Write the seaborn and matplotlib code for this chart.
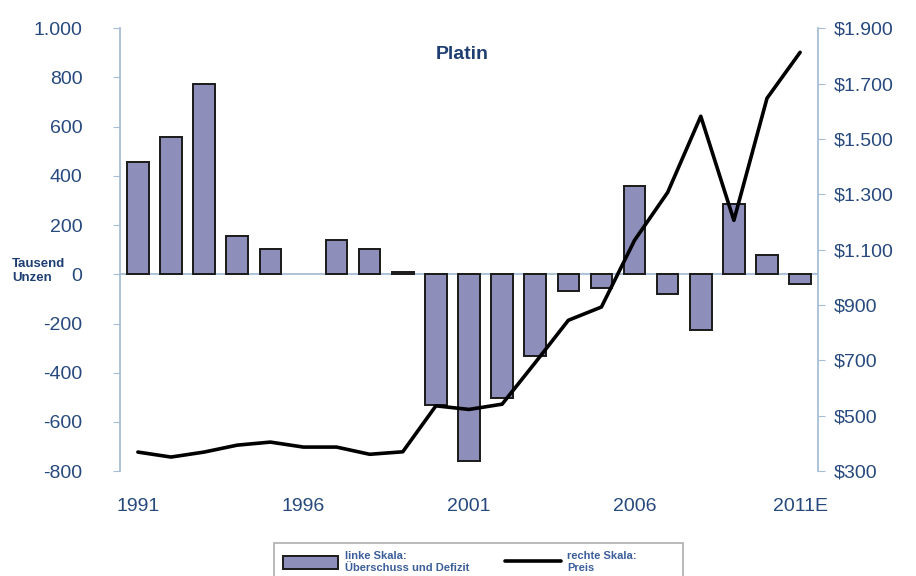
import matplotlib
matplotlib.use("Agg")
import matplotlib.pyplot as plt
import seaborn as sns
import pandas as pd
import numpy as np
from matplotlib.patches import Patch
from matplotlib.lines import Line2D

# data (no bar shown for 1996)
years = list(range(1991, 2012))
balance = [456, 558, 772, 156, 102, np.nan, 141, 102, 10, -533, -757, -504, -330,
           -66, -56, 358, -79, -228, 285, 77, -40]
price = [369, 351, 369, 394, 405, 387, 387, 361, 370, 536, 523, 542, 692,
         845, 893, 1134, 1307, 1582, 1206, 1647, 1813]
year_ticks = [1991, 1996, 2001, 2006, 2011]
year_labels = ["1991", "1996", "2001", "2006", "2011E"]
left_ticks = list(range(-800, 1001, 200))
right_ticks = list(range(300, 1901, 200))

df = pd.DataFrame({"year": years, "balance": balance, "price": price})

sns.set_style("white")
plt.rcParams["font.family"] = ["Liberation Sans", "DejaVu Sans"]

text_col = "#27497d"
spine_col = "#a7bdd5"

fig = plt.figure(figsize=(9.16, 5.76), dpi=100)
ax = fig.add_axes([0.131, 0.182, 0.762, 0.769])

sns.barplot(data=df, x="year", y="balance", native_scale=True, width=0.65,
            color="#8e8ebb", saturation=1, edgecolor="#1a1a1a", linewidth=1.4, ax=ax)
ax.axhline(0, color=spine_col, lw=1.3, zorder=0.5)

ax2 = ax.twinx()
sns.lineplot(data=df, x="year", y="price", color="black", lw=2.6, ax=ax2)

ax.set_xlim(1991 - 0.54, 2011 + 0.54)
ax.set_ylim(-800, 1000)
ax2.set_ylim(300, 1900)

ax.set_yticks(left_ticks)
ax.set_yticklabels([f"{v:,}".replace(",", ".") for v in left_ticks])
ax2.set_yticks(right_ticks)
ax2.set_yticklabels(["$" + f"{v:,}".replace(",", ".") for v in right_ticks])
ax.set_xticks(year_ticks)
ax.set_xticklabels(year_labels)

for a in (ax, ax2):
    a.set_xlabel("")
    a.set_ylabel("")
    for s in a.spines.values():
        s.set_visible(False)
ax.spines["left"].set_visible(True)
ax.spines["left"].set_color(spine_col)
ax.spines["left"].set_linewidth(1.3)
ax2.spines["right"].set_visible(True)
ax2.spines["right"].set_color(spine_col)
ax2.spines["right"].set_linewidth(1.3)

ax.tick_params(axis="y", labelsize=14, labelcolor=text_col, color=spine_col,
               length=5, direction="out", left=True, pad=22)
ax2.tick_params(axis="y", labelsize=14, labelcolor=text_col, color=spine_col,
                length=5, direction="out", right=True, pad=6)
ax.tick_params(axis="x", labelsize=14, labelcolor=text_col, length=0, pad=19)

ax.text(0.49, 0.94, "Platin", transform=ax.transAxes, ha="center", va="center",
        fontsize=14, fontweight="bold", color="#1f3f73")
fig.text(0.013, 0.53, "Tausend\nUnzen", ha="left", va="center", fontsize=9.5,
         fontweight="bold", color="#1f3f73", linespacing=1.2)

handles = [Patch(facecolor="#8e8ebb", edgecolor="#1a1a1a", lw=1.4),
           Line2D([0], [0], color="black", lw=2.6)]
labels = ["linke Skala:\nÜberschuss und Defizit", "rechte Skala:            \nPreis"]
leg = fig.legend(handles, labels, ncol=2, loc="lower left",
                 bbox_to_anchor=(0.293, -0.02), frameon=True, fancybox=False,
                 prop={"size": 8, "weight": "bold"}, handlelength=5,
                 handleheight=1.3, handletextpad=0.6, columnspacing=3.2,
                 borderpad=0.8)
leg.get_frame().set_edgecolor("#9a9a9a")
leg.get_frame().set_linewidth(1.2)
for t in leg.get_texts():
    t.set_color("#3c5f9a")

fig.savefig("out.png", dpi=100)
